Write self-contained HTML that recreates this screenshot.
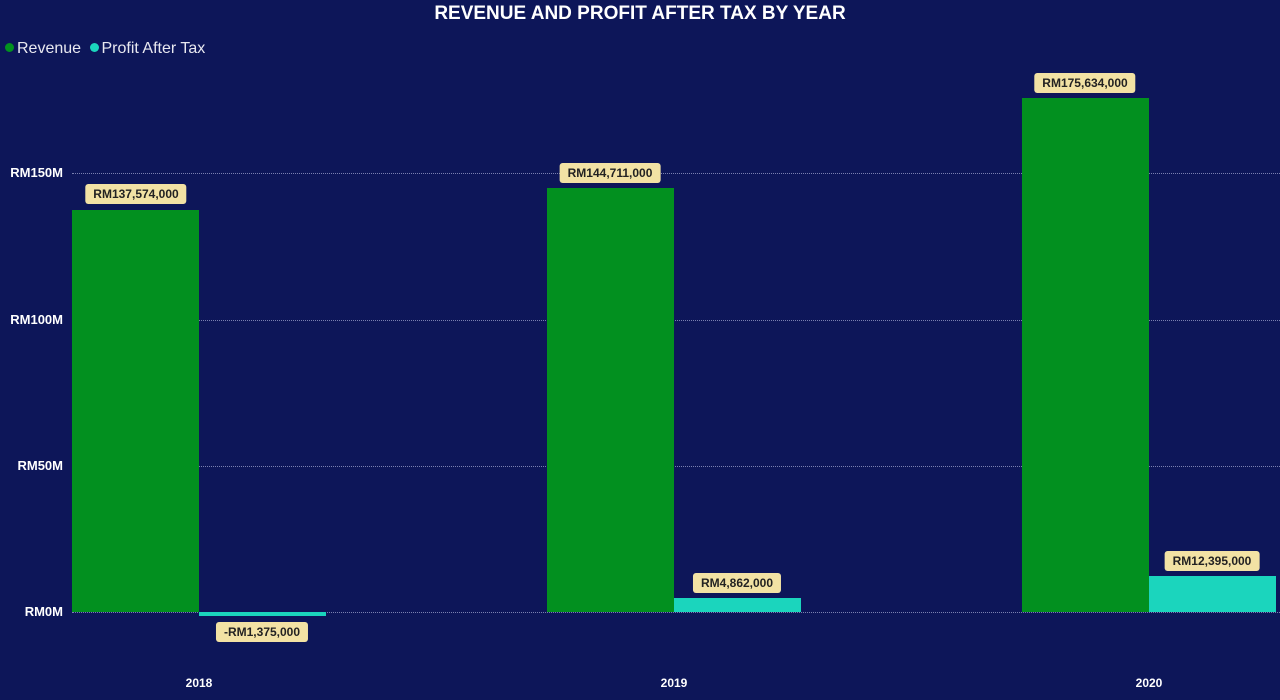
<!DOCTYPE html>
<html><head><meta charset="utf-8"><style>
body{margin:0;width:1280px;height:700px;background:#0d1659;overflow:hidden;font-family:"Liberation Sans",sans-serif;position:relative}
.t{position:absolute;left:0;width:1280px;top:3px;text-align:center;color:#fff;font-weight:bold;font-size:19px}
.lg{position:absolute;top:40px;left:5px;color:#e8e8f0;font-size:16px}
.dot{display:inline-block;width:9px;height:9px;border-radius:50%;margin-right:3px;vertical-align:1px}
.yl{position:absolute;left:0;width:63px;text-align:right;color:#fff;font-weight:bold;font-size:13px}
.g{position:absolute;left:200px;right:0;border-top:1px dotted #7a80b0}
.b{position:absolute}
.lab{position:absolute;background:#f2e2a4;color:#222;font-weight:bold;font-size:12px;padding:3px 8px;border-radius:3px;transform:translateX(-50%);white-space:nowrap}
.x{position:absolute;top:676px;color:#fff;font-weight:bold;font-size:12px;transform:translateX(-50%)}
</style></head><body>
<div class="t">REVENUE AND PROFIT AFTER TAX BY YEAR</div>
<div class="lg"><span class="dot" style="background:#02921f"></span>Revenue <span class="dot" style="background:#1bd5bd;margin-left:4px"></span>Profit After Tax</div>
<div class="yl" style="top:165px">RM150M</div>
<div class="yl" style="top:312px">RM100M</div>
<div class="yl" style="top:458px">RM50M</div>
<div class="yl" style="top:604px">RM0M</div>
<div class="g" style="top:173px;left:72px"></div>
<div class="g" style="top:320px;left:72px"></div>
<div class="g" style="top:466px;left:72px"></div>
<div class="g" style="top:612px;left:72px"></div>
<div class="b" style="left:72px;width:127px;top:210px;height:402px;background:#02901f"></div>
<div class="b" style="left:199px;width:127px;top:612px;height:4px;background:#1bd5bd"></div>
<div class="b" style="left:547px;width:127px;top:188px;height:424px;background:#02901f"></div>
<div class="b" style="left:674px;width:127px;top:598px;height:14px;background:#1bd5bd"></div>
<div class="b" style="left:1022px;width:127px;top:98px;height:514px;background:#02901f"></div>
<div class="b" style="left:1149px;width:127px;top:576px;height:36px;background:#1bd5bd"></div>
<div class="lab" style="left:136px;top:184px">RM137,574,000</div>
<div class="lab" style="left:262px;top:622px">-RM1,375,000</div>
<div class="lab" style="left:610px;top:163px">RM144,711,000</div>
<div class="lab" style="left:737px;top:573px">RM4,862,000</div>
<div class="lab" style="left:1085px;top:73px">RM175,634,000</div>
<div class="lab" style="left:1212px;top:551px">RM12,395,000</div>
<div class="x" style="left:199px">2018</div>
<div class="x" style="left:674px">2019</div>
<div class="x" style="left:1149px">2020</div>
</body></html>
